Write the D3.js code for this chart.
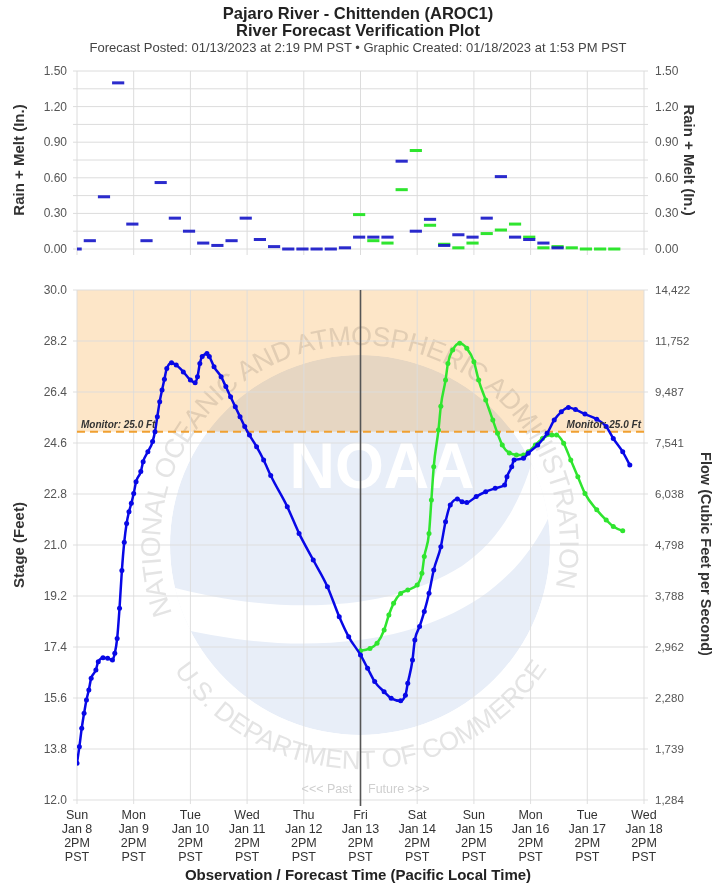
<!DOCTYPE html>
<html>
<head>
<meta charset="utf-8">
<script src="https://cdn.jsdelivr.net/npm/d3@7"></script>
<style>
  body { margin: 0; background: #fff; }
  svg { font-family: "Liberation Sans", Arial, sans-serif; }
</style>
</head>
<body>
<svg id="chart" width="715" height="884"></svg>
<script>
// ---- data (hours after Sun Jan 8 2PM PST) ----
const obsHours = [0, 1, 2, 3, 4, 5, 6, 8, 9, 11, 13, 15, 16, 17, 18, 19, 20, 21, 22, 23, 24, 25, 27, 28, 30, 32, 33, 34, 35, 36, 37, 38, 40, 42, 45, 48, 50, 51, 52, 53, 55, 56, 58, 61, 63, 65, 67, 69, 71, 73, 76, 79, 82, 89, 94, 100, 106, 111, 115, 120, 123, 126, 130, 133, 137, 139, 140, 142, 143, 145, 147, 149, 151, 154, 156, 158, 161, 163, 165, 169, 173, 177, 181, 182, 184, 185, 189, 191, 195, 199, 202, 205, 208, 211, 215, 220, 224, 227, 231, 234];
const obsStage = [13.30, 13.88, 14.53, 15.06, 15.53, 15.88, 16.30, 16.59, 16.88, 17.02, 17.00, 16.94, 17.18, 17.70, 18.77, 20.10, 21.10, 21.76, 22.17, 22.47, 22.82, 23.23, 23.59, 23.94, 24.29, 24.65, 25.00, 25.53, 26.06, 26.47, 26.85, 27.23, 27.43, 27.35, 27.11, 26.82, 26.73, 26.94, 27.41, 27.65, 27.76, 27.65, 27.29, 26.94, 26.59, 26.23, 25.88, 25.53, 25.18, 24.88, 24.47, 24.00, 23.45, 22.35, 21.41, 20.47, 19.53, 18.47, 17.76, 17.12, 16.65, 16.18, 15.82, 15.59, 15.50, 15.70, 16.12, 16.94, 17.65, 18.12, 18.65, 19.30, 20.12, 20.94, 21.82, 22.41, 22.62, 22.53, 22.50, 22.71, 22.88, 23.00, 23.12, 23.41, 23.76, 24.00, 24.06, 24.24, 24.53, 24.94, 25.41, 25.70, 25.85, 25.78, 25.62, 25.44, 25.18, 24.76, 24.29, 23.82];

const fcstHours = [120, 124, 127, 130, 132, 134, 137, 140, 144, 146, 147, 149, 150, 151, 153, 154, 156, 157, 159, 162, 165, 168, 170, 173, 176, 178, 180, 183, 186, 189, 191, 194, 197, 201, 203, 206, 209, 212, 215, 220, 224, 227, 231];
const fcstStage = [17.27, 17.35, 17.53, 18.00, 18.53, 18.94, 19.29, 19.41, 19.59, 20.00, 20.59, 21.41, 22.59, 23.76, 25.06, 25.90, 26.82, 27.41, 27.88, 28.12, 27.94, 27.47, 26.82, 26.12, 25.41, 24.94, 24.53, 24.25, 24.18, 24.18, 24.29, 24.53, 24.76, 24.88, 24.88, 24.59, 24.00, 23.41, 22.82, 22.24, 21.88, 21.65, 21.50];

// 6-hour rain + melt, period 0 = 10AM-4PM Jan 8
const precipObs = [0.00, 0.07, 0.44, 1.40, 0.21, 0.07, 0.56, 0.26, 0.15, 0.05, 0.03, 0.07, 0.26, 0.08, 0.02, 0.00, 0.00, 0.00, 0.00, 0.01, 0.10, 0.10, 0.10, 0.74, 0.15, 0.25, 0.03, 0.12, 0.10, 0.26, 0.61, 0.10, 0.08, 0.05, 0.01];
const fcstPrecipStart = 20;
const precipFcst = [0.29, 0.07, 0.05, 0.50, 0.83, 0.20, 0.04, 0.01, 0.05, 0.13, 0.16, 0.21, 0.10, 0.01, 0.02, 0.01, 0.00, 0.00, 0.00];

const precipTicks = [0, 0.3, 0.6, 0.9, 1.2, 1.5];
const stageTicks = [12.0, 13.8, 15.6, 17.4, 19.2, 21.0, 22.8, 24.6, 26.4, 28.2, 30.0];
const flowLabels = ["1,284", "1,739", "2,280", "2,962", "3,788", "4,798", "6,038", "7,541", "9,487", "11,752", "14,422"];
const monitorStage = 25.0;

// ---- setup ----
const svg = d3.select("#chart");
const t0 = new Date(Date.UTC(2023, 0, 8, 14));
const t1 = new Date(Date.UTC(2023, 0, 18, 14));
const hr = h => d3.utcHour.offset(t0, h);

const L = 77, R = 644;
const x = d3.scaleUtc().domain([t0, t1]).range([L, R]);
const yP = d3.scaleLinear().domain([0, 1.5]).range([249, 71]);
const yS = d3.scaleLinear().domain([12, 30]).range([800, 290]);
const dayTicks = d3.utcDay.range(Date.UTC(2023, 0, 8), Date.UTC(2023, 0, 19)).map(d => d3.utcHour.offset(d, 14));

const grid = "#dcdcdc";
const blue = "#0808e6";
const green = "#2fe52f";

const defs = svg.append("defs");
defs.append("clipPath").attr("id", "clipTop")
  .append("rect").attr("x", L).attr("y", 55).attr("width", R - L).attr("height", 205);
defs.append("clipPath").attr("id", "clipBot")
  .append("rect").attr("x", L).attr("y", yS(30)).attr("width", R - L).attr("height", yS(12) - yS(30));

// ---- titles ----
svg.append("text").attr("x", 358).attr("y", 19).attr("text-anchor", "middle")
  .attr("font-size", 16.5).attr("font-weight", "bold").attr("fill", "#222")
  .text("Pajaro River - Chittenden (AROC1)");
svg.append("text").attr("x", 358).attr("y", 36).attr("text-anchor", "middle")
  .attr("font-size", 16.5).attr("font-weight", "bold").attr("fill", "#222")
  .text("River Forecast Verification Plot");
svg.append("text").attr("x", 358).attr("y", 52).attr("text-anchor", "middle")
  .attr("font-size", 13).attr("fill", "#444")
  .text("Forecast Posted: 01/13/2023 at 2:19 PM PST  \u2022  Graphic Created: 01/18/2023 at 1:53 PM PST");

// ---- top panel: rain + melt ----
const topPanel = svg.append("g");
topPanel.selectAll(".hg").data(d3.range(0, 11).map(i => i * 0.15)).join("line")
  .attr("x1", L - 4).attr("x2", R + 4)
  .attr("y1", d => yP(d)).attr("y2", d => yP(d))
  .attr("stroke", grid).attr("stroke-width", 1);
topPanel.selectAll(".vg").data(dayTicks).join("line")
  .attr("x1", d => x(d)).attr("x2", d => x(d))
  .attr("y1", yP(1.5)).attr("y2", yP(0) + 6)
  .attr("stroke", grid).attr("stroke-width", 1);

topPanel.selectAll(".tl").data(precipTicks).join("text")
  .attr("x", L - 10).attr("y", d => yP(d) + 4).attr("text-anchor", "end")
  .attr("font-size", 12).attr("fill", "#555").text(d => d3.format(".2f")(d));
topPanel.selectAll(".tr").data(precipTicks).join("text")
  .attr("x", R + 11).attr("y", d => yP(d) + 4)
  .attr("font-size", 12).attr("fill", "#555").text(d => d3.format(".2f")(d));

svg.append("text").attr("transform", `translate(24,${(yP(0) + yP(1.5)) / 2}) rotate(-90)`)
  .attr("text-anchor", "middle").attr("font-size", 15).attr("font-weight", "bold").attr("fill", "#333")
  .text("Rain + Melt (In.)");
svg.append("text").attr("transform", `translate(684,${(yP(0) + yP(1.5)) / 2}) rotate(90)`)
  .attr("text-anchor", "middle").attr("font-size", 15).attr("font-weight", "bold").attr("fill", "#333")
  .text("Rain + Melt (In.)");

const periodStart = i => hr(-4 + 6 * i);
const periodEnd = i => hr(2 + 6 * i);
const bars = topPanel.append("g").attr("clip-path", "url(#clipTop)");
bars.selectAll(".pf").data(precipFcst).join("rect")
  .attr("x", (d, i) => x(periodStart(i + fcstPrecipStart)) + 2)
  .attr("width", (d, i) => x(periodEnd(i + fcstPrecipStart)) - x(periodStart(i + fcstPrecipStart)) - 2)
  .attr("y", d => yP(d) - 1.5).attr("height", 3).attr("fill", green);
bars.selectAll(".po").data(precipObs).join("rect")
  .attr("x", (d, i) => x(periodStart(i)) + 2)
  .attr("width", (d, i) => x(periodEnd(i)) - x(periodStart(i)) - 2)
  .attr("y", d => yP(d) - 1.5).attr("height", 3).attr("fill", "#1414c8").attr("opacity", 0.9);

// ---- bottom panel: stage ----
const bot = svg.append("g");
bot.append("rect").attr("x", L).attr("width", R - L)
  .attr("y", yS(30)).attr("height", yS(monitorStage) - yS(30)).attr("fill", "#fde6c8");

// NOAA watermark
const wm = bot.append("g").attr("clip-path", "url(#clipBot)").style("mix-blend-mode", "multiply");
const cx = 360, cy = 545;
defs.append("clipPath").attr("id", "clipDisc")
  .append("circle").attr("cx", cx).attr("cy", cy).attr("r", 190);
const disc = wm.append("g").attr("clip-path", "url(#clipDisc)");
disc.append("circle").attr("cx", cx).attr("cy", cy).attr("r", 190).attr("fill", "#e8eef8");
disc.append("path").attr("fill", "#fff")
  .attr("d", "M165,585 C260,612 380,618 462,566 C512,532 540,470 548,370 L620,370 L620,520 L554,505 C522,585 452,628 360,640 C280,650 220,637 165,626 Z");
disc.append("text").attr("x", cx + 22).attr("y", 488).attr("text-anchor", "middle")
  .attr("font-size", 64).attr("font-weight", "bold").attr("fill", "#fff")
  .attr("textLength", 185).attr("lengthAdjust", "spacingAndGlyphs").text("NOAA");

function arcD(r, a0, a1, sweep) {
  const p = a => [cx + r * Math.cos(a * Math.PI / 180), cy + r * Math.sin(a * Math.PI / 180)];
  const [xa, ya] = p(a0), [xb, yb] = p(a1);
  const large = Math.abs(a1 - a0) > 180 ? 1 : 0;
  return `M${xa},${ya} A${r},${r} 0 ${large} ${sweep} ${xb},${yb}`;
}
defs.append("path").attr("id", "arcTop").attr("d", arcD(200, 160, 378, 1));
defs.append("path").attr("id", "arcBot").attr("d", arcD(224, 146, 34, 0));
wm.append("text").attr("font-size", 27).attr("fill", "#e4e4e4")
  .append("textPath").attr("href", "#arcTop")
  .attr("textLength", 740).attr("lengthAdjust", "spacing")
  .text("NATIONAL OCEANIC AND ATMOSPHERIC ADMINISTRATION");
wm.append("text").attr("font-size", 26).attr("fill", "#e4e4e4")
  .append("textPath").attr("href", "#arcBot")
  .attr("textLength", 440).attr("lengthAdjust", "spacing")
  .text("U.S. DEPARTMENT OF COMMERCE");

// grid
bot.selectAll(".hg").data(stageTicks).join("line")
  .attr("x1", L - 4).attr("x2", R + 4)
  .attr("y1", d => yS(d)).attr("y2", d => yS(d))
  .attr("stroke", grid).attr("stroke-width", 1).attr("opacity", 0.9);
bot.selectAll(".vg").data(dayTicks).join("line")
  .attr("x1", d => x(d)).attr("x2", d => x(d))
  .attr("y1", yS(30)).attr("y2", yS(12) + 4)
  .attr("stroke", grid).attr("stroke-width", 1).attr("opacity", 0.9);

// past / future
bot.append("text").attr("x", 352).attr("y", 793).attr("text-anchor", "end")
  .attr("font-size", 12.5).attr("fill", "#cfcfcf").text("<<< Past");
bot.append("text").attr("x", 368).attr("y", 793)
  .attr("font-size", 12.5).attr("fill", "#cfcfcf").text("Future >>>");

// monitor line
bot.append("line").attr("x1", L).attr("x2", R)
  .attr("y1", yS(monitorStage)).attr("y2", yS(monitorStage))
  .attr("stroke", "#f0a030").attr("stroke-width", 2).attr("stroke-dasharray", "8,5");

// now line
const tNow = d3.utcHour.offset(t0, 120);
bot.append("line").attr("x1", x(tNow)).attr("x2", x(tNow))
  .attr("y1", yS(30)).attr("y2", yS(12) + 6)
  .attr("stroke", "#555").attr("stroke-width", 1.6);

// axes labels
bot.selectAll(".sl").data(stageTicks).join("text")
  .attr("x", L - 10).attr("y", d => yS(d) + 4).attr("text-anchor", "end")
  .attr("font-size", 12).attr("fill", "#555").text(d => d3.format(".1f")(d));
bot.selectAll(".fl").data(stageTicks).join("text")
  .attr("x", R + 11).attr("y", d => yS(d) + 4)
  .attr("font-size", 11.5).attr("fill", "#555").text((d, i) => flowLabels[i]);

svg.append("text").attr("transform", `translate(24,${(yS(12) + yS(30)) / 2}) rotate(-90)`)
  .attr("text-anchor", "middle").attr("font-size", 15).attr("font-weight", "bold").attr("fill", "#333")
  .text("Stage (Feet)");
svg.append("text").attr("transform", `translate(701,554) rotate(90)`)
  .attr("text-anchor", "middle").attr("font-size", 14.5).attr("font-weight", "bold").attr("fill", "#333")
  .text("Flow (Cubic Feet per Second)");

const fmtDay = d3.utcFormat("%a"), fmtDate = d3.utcFormat("%b %-d");
const xl = bot.selectAll(".xl").data(dayTicks).join("text")
  .attr("x", d => x(d)).attr("y", 819).attr("text-anchor", "middle")
  .attr("font-size", 12.5).attr("fill", "#333");
xl.append("tspan").attr("x", d => x(d)).attr("dy", 0).text(d => fmtDay(d));
xl.append("tspan").attr("x", d => x(d)).attr("dy", 14).text(d => fmtDate(d));
xl.append("tspan").attr("x", d => x(d)).attr("dy", 14).text("2PM");
xl.append("tspan").attr("x", d => x(d)).attr("dy", 14).text("PST");

svg.append("text").attr("x", 358).attr("y", 880).attr("text-anchor", "middle")
  .attr("font-size", 15).attr("font-weight", "bold").attr("fill", "#222")
  .text("Observation / Forecast Time (Pacific Local Time)");

// series
const obs = obsHours.map((h, i) => ({ t: hr(h), v: obsStage[i] }));
const fcst = fcstHours.map((h, i) => ({ t: hr(h), v: fcstStage[i] }));
const line = d3.line().x(d => x(d.t)).y(d => yS(d.v)).curve(d3.curveMonotoneX);
const series = bot.append("g").attr("clip-path", "url(#clipBot)");

function drawSeries(data, color) {
  series.append("path").datum(data).attr("d", line)
    .attr("fill", "none").attr("stroke", color).attr("stroke-width", 2.5);
  series.append("g").selectAll("circle").data(data).join("circle")
    .attr("cx", d => x(d.t)).attr("cy", d => yS(d.v)).attr("r", 2.5).attr("fill", color);
}
drawSeries(fcst, green);
drawSeries(obs, blue);

// monitor labels
[{ x: L + 4, anchor: "start" }, { x: R - 3, anchor: "end" }].forEach(p => {
  bot.append("text").attr("x", p.x).attr("y", yS(monitorStage) - 4).attr("text-anchor", p.anchor)
    .attr("font-size", 10).attr("font-weight", "bold").attr("font-style", "italic").attr("fill", "#333")
    .text("Monitor: 25.0 Ft");
});
</script>
</body>
</html>
